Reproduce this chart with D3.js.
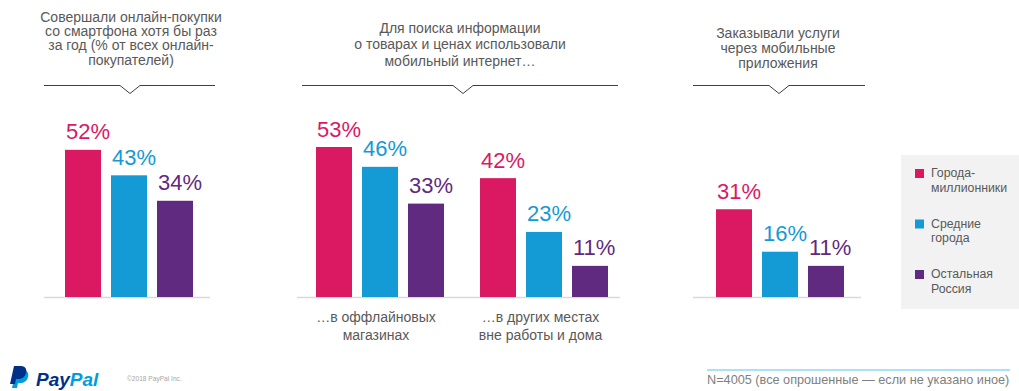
<!DOCTYPE html>
<html><head><meta charset="utf-8">
<script src="https://cdn.jsdelivr.net/npm/d3@7"></script>
<style>body{margin:0;background:#fff;}svg{display:block;font-family:"Liberation Sans",Arial,sans-serif;}</style>
</head><body><svg id="c" width="1019" height="391"></svg>
<script>
const series = ["Города-миллионники", "Средние города", "Остальная Россия"];
const legendLines = [["Города-", "миллионники"], ["Средние", "города"], ["Остальная", "Россия"]];
const colors = ["#DB1862", "#149AD5", "#5F2A7F"];
const panelTitles = [
  ["Совершали онлайн-покупки", "со смартфона хотя бы раз", "за год (% от всех онлайн-", "покупателей)"],
  ["Для поиска информации", "о товарах и ценах использовали", "мобильный интернет…"],
  ["Заказывали услуги", "через мобильные", "приложения"]
];
const subLabels = [["…в оффлайновых", "магазинах"], ["…в других местах", "вне работы и дома"]];
const valOnline = [52, 43, 34];
const valOffline = [53, 46, 33];
const valOther = [42, 23, 11];
const valApps = [31, 16, 11];
const footnote = "N=4005 (все опрошенные — если не указано иное)";
const copyright = "©2018 PayPal Inc.";

const svg = d3.select("#c");
const gray = "#595959";
const y = d3.scaleLinear().domain([0, 60]).range([297, 297 - 2.83 * 60]);

// panels layout
const panels = [
  {title: panelTitles[0], cx: 131, lh: 14.2, y0: 22, br: [44, 215], notch: 130, base: [44, 210],
   groups: [{vals: valOnline, range: [65, 193]}]},
  {title: panelTitles[1], cx: 460, lh: 16.8, y0: 32.5, br: [302, 618], notch: 463, base: [297, 620],
   groups: [{vals: valOffline, range: [316, 444], label: subLabels[0], lx: 376},
            {vals: valOther, range: [480, 608], label: subLabels[1], lx: 540.5}]},
  {title: panelTitles[2], cx: 778, lh: 15, y0: 37.5, br: [693, 865], notch: 779, base: [693, 861],
   groups: [{vals: valApps, range: [716, 844]}]}
];

panels.forEach(p => {
  const g = svg.append("g");
  g.append("text").attr("text-anchor", "middle").attr("fill", gray).style("font-size", "14px")
    .selectAll("tspan").data(p.title).join("tspan")
    .attr("x", p.cx).attr("y", (d, i) => p.y0 + i * p.lh).text(d => d);
  const [a, b] = p.br, n = p.notch;
  g.append("path").attr("fill", "none").attr("stroke", "#404040").attr("stroke-width", 1)
    .attr("d", `M${a},85.5H${n - 10}L${n},93.5L${n + 10},85.5H${b}`);
  g.append("line").attr("x1", p.base[0]).attr("x2", p.base[1]).attr("y1", y(0) + 0.5).attr("y2", y(0) + 0.5)
    .attr("stroke", "#d9d9d9").attr("stroke-width", 1.5);
  p.groups.forEach(gr => {
    const x = d3.scaleBand().domain(series).range(gr.range).paddingInner(10 / 46).paddingOuter(0);
    const data = gr.vals.map((v, i) => ({s: series[i], v, c: colors[i]}));
    g.selectAll(null).data(data).join("rect")
      .attr("x", d => x(d.s)).attr("width", x.bandwidth())
      .attr("y", d => y(d.v)).attr("height", d => y(0) - y(d.v)).attr("fill", d => d.c);
    g.selectAll(null).data(data).join("text")
      .attr("x", d => x(d.s) + 1).attr("y", d => y(d.v) - 10.5)
      .attr("fill", d => d.c).style("font-size", "22px").text(d => d.v + "%");
    if (gr.label) {
      g.append("text").attr("text-anchor", "middle").attr("fill", gray).style("font-size", "14px")
        .selectAll("tspan").data(gr.label).join("tspan")
        .attr("x", gr.lx).attr("y", (d, i) => 322 + i * 17.5).text(d => d);
    }
  });
});

// legend
const lg = svg.append("g");
lg.append("rect").attr("x", 901).attr("y", 155).attr("width", 118).attr("height", 154).attr("fill", "#f2f2f2");
const ly = d3.scalePoint().domain(series).range([177, 278]);
series.forEach((s, i) => {
  lg.append("rect").attr("x", 915).attr("y", ly(s) - 8).attr("width", 9).attr("height", 9).attr("fill", colors[i]);
  lg.append("text").attr("fill", gray).style("font-size", "12.3px")
    .selectAll("tspan").data(legendLines[i]).join("tspan")
    .attr("x", 931).attr("y", (d, j) => ly(s) + j * 14.5).text(d => d);
});

// footer
svg.append("line").attr("x1", 707).attr("x2", 1010).attr("y1", 370).attr("y2", 370)
  .attr("stroke", "#5BC1EC").attr("stroke-width", 1.2);
svg.append("text").attr("x", 707).attr("y", 384).attr("fill", "#808080").style("font-size", "12.7px").text(footnote);
svg.append("text").attr("x", 127).attr("y", 380.5).attr("fill", "#a6a6a6").style("font-size", "6.6px").text(copyright);

// PayPal logo
const logo = svg.append("g");
logo.append("path").attr("fill", "#009CDE")
  .attr("d", "M16,370 H23 C28,370 29,374 28,377 C27,381 24,383 20,383 H18 L17,388 H12 Z");
logo.append("path").attr("fill", "#003087")
  .attr("d", "M14,366 H21 C26,366 27,370 26,373 C25,377 22,379 18,379 H16 L15,384 H10 Z");
const lt = logo.append("text").attr("x", 36).attr("y", 385.5).style("font-size", "19px")
  .style("font-weight", "bold").style("font-style", "italic").style("font-family", "'Liberation Sans',Arial,sans-serif");
lt.append("tspan").attr("fill", "#003087").text("Pay");
lt.append("tspan").attr("fill", "#009CDE").text("Pal");
</script></body></html>
